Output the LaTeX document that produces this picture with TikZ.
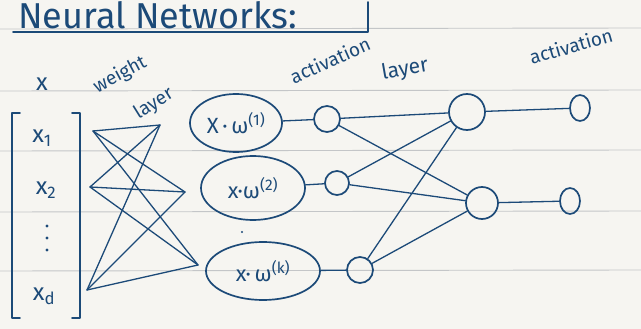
\documentclass[tikz,border=0pt]{standalone}
\usepackage{fontspec}
\setmainfont{Fira Sans}
\usetikzlibrary{calc,shapes.geometric}
\definecolor{paper}{RGB}{246,245,241}
\definecolor{rule}{RGB}{196,198,200}
\definecolor{ink}{RGB}{28,74,120}
\tikzset{
  pen/.style={draw=ink, line width=1.7pt, line cap=round, line join=round},
  wire/.style={draw=ink, line width=1.3pt, line cap=round},
  txt/.style={text=ink, inner sep=0pt},
  sumnode/.style={pen, ellipse, inner sep=0pt, text=ink},
  unit/.style={pen, circle, inner sep=0pt},
  ruled/.style={draw=rule, line width=0.9pt},
  label font/.style={font=\fontsize{19}{19}\selectfont},
  vec font/.style={font=\fontsize{24}{24}\selectfont},
  sum font/.style={font=\fontsize{22}{22}\selectfont},
}
\begin{document}
\begin{tikzpicture}[x=1pt,y=-1pt]
  % page and notebook rules
  \fill[paper] (0,0) rectangle (641,329);
  \useasboundingbox (0,0) rectangle (641,329);
  \foreach \yy in {29,91,151,212,271} {
    \draw[ruled] (0,\yy) -- (641,\yy-1);
  }

  % heading
  \node[txt, anchor=south west, font=\fontsize{36}{36}\selectfont] (title) at (18,29) {Neural Networks:};
  \draw[pen] (13,32) -- (368,32) -- (368,2);

  % input vector
  \node[txt, vec font] (xlab) at (42,84) {x};
  \draw[pen] (20,113) -- (12,113) -- (12,318) -- (20,318);
  \draw[pen] (72,113) -- (80,113) -- (80,318) -- (72,318);
  \node[txt, vec font] (x1) at (42,138) {x\textsubscript{1}};
  \node[txt, vec font] (x2) at (46,190) {x\textsubscript{2}};
  \foreach \yy in {226,238,250} {
    \fill[ink] (47,\yy) circle (1.6pt);
  }
  \node[txt, vec font] (xd) at (44,296) {x\textsubscript{d}};

  % weight layer label
  \node[txt, label font, rotate=28] (wlab) at (120,75) {weight};
  \node[txt, label font, rotate=32] (llab) at (154,104) {layer};

  % weight connections
  \coordinate (i1) at (93,131);
  \coordinate (i2) at (90,187);
  \coordinate (i3) at (87,290);
  \coordinate (w1) at (160,125);
  \coordinate (w2) at (185,192);
  \coordinate (w3) at (198,265);
  \foreach \i in {i1,i2,i3} {
    \foreach \w in {w1,w2,w3} {
      \draw[wire] (\i) -- (\w);
    }
  }

  % weighted sums
  \node[sumnode, minimum width=92pt, minimum height=58pt, sum font] (e1) at (236,123) {X\,·\,ω\textsuperscript{(1)}};
  \node[sumnode, minimum width=104pt, minimum height=64pt, sum font] (e2) at (253,188) {x·ω\textsuperscript{(2)}};
  \node[sumnode, minimum width=114pt, minimum height=58pt, sum font] (e3) at (263,271) {x·\,ω\textsuperscript{(k)}};
  \fill[ink] (242,232) circle (1.2pt);

  % activation label
  \node[txt, label font, rotate=24] (alab) at (330,60) {activation};

  % first activations
  \node[unit, minimum size=26pt] (a1) at (327,119) {};
  \node[unit, minimum size=24pt] (a2) at (337,183) {};
  \node[unit, minimum size=26pt] (a3) at (360,270) {};
  \draw[wire] (e1) -- (a1);
  \draw[wire] (e2) -- (a2);
  \draw[wire] (e3) -- (a3);

  % hidden layer
  \node[txt, font=\fontsize{21}{21}\selectfont, rotate=10] (hlab) at (405,70) {layer};
  \node[unit, minimum size=36pt] (h1) at (467,112) {};
  \node[unit, minimum size=32pt] (h2) at (482,203) {};
  \foreach \a in {a1,a2,a3} {
    \draw[wire] (\a) -- (h1);
    \draw[wire] (\a) -- (h2);
  }

  % output activations
  \node[txt, label font, rotate=16] (olab) at (571,46) {activation};
  \node[unit, minimum width=20pt, minimum height=26pt, ellipse] (o1) at (580,108) {};
  \node[unit, minimum width=20pt, minimum height=26pt, ellipse] (o2) at (570,201) {};
  \draw[wire] (h1) -- (o1);
  \draw[wire] (h2) -- (o2);
\end{tikzpicture}
\end{document}
